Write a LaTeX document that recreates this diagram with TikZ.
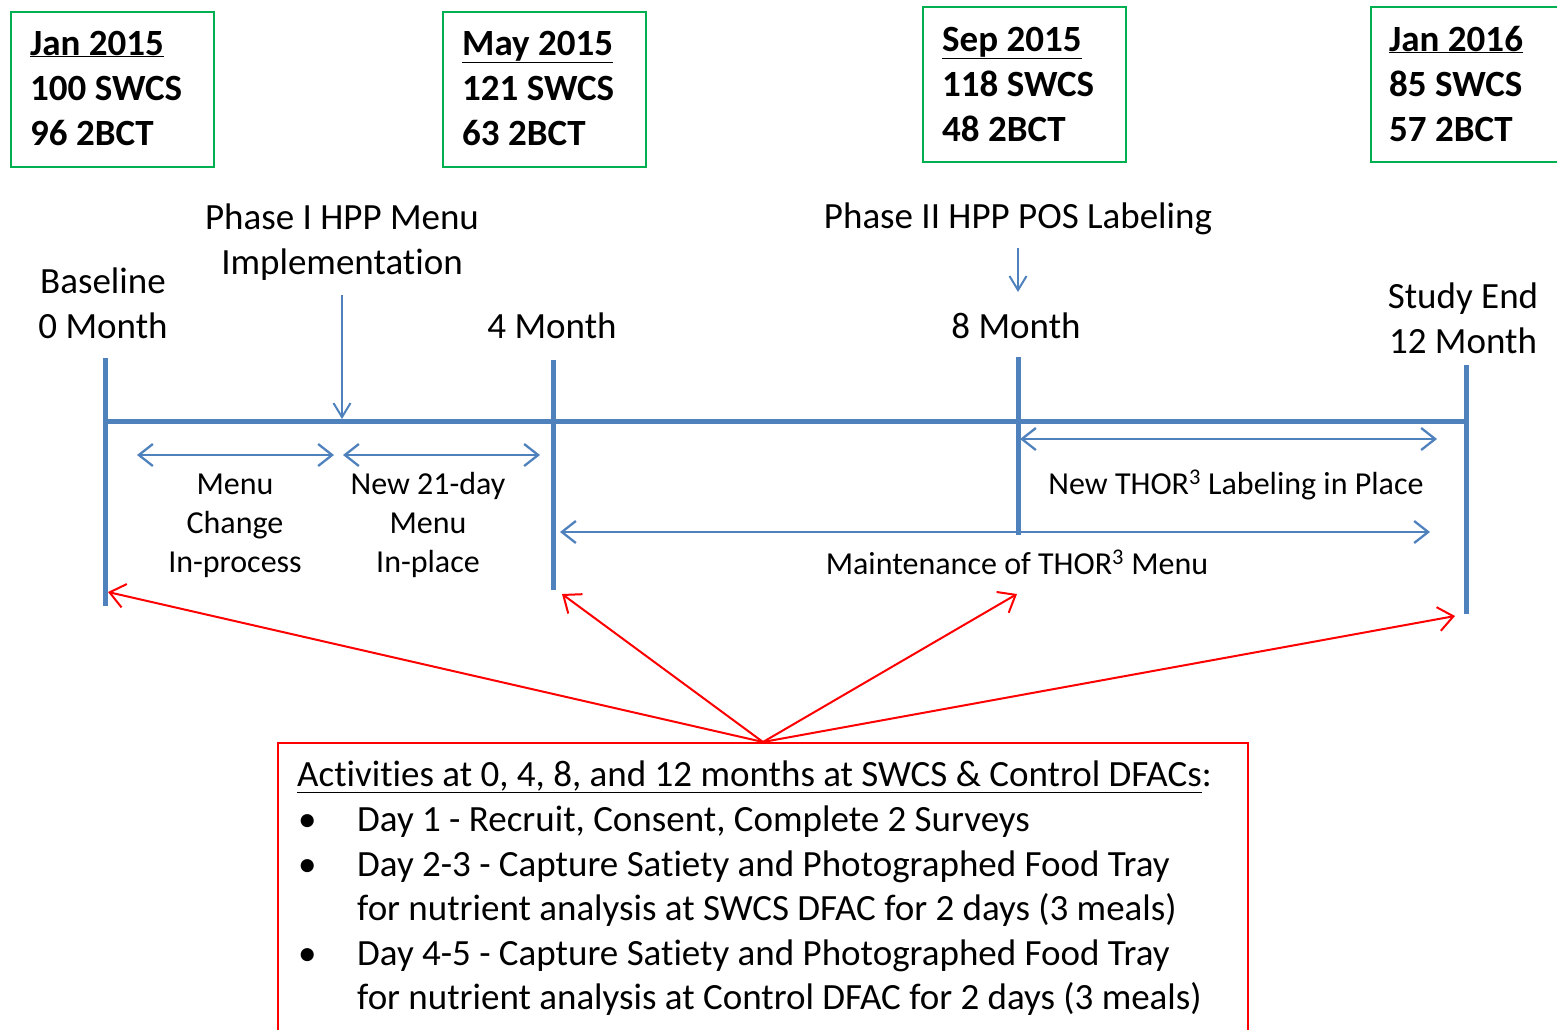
\documentclass[tikz,border=0pt]{standalone}
\usepackage{fontspec}
\setmainfont{Carlito}[Ligatures=NoCommon]
\usetikzlibrary{arrows.meta}
\definecolor{tlblue}{RGB}{79,129,189}
\definecolor{boxgreen}{RGB}{0,176,80}
\definecolor{redline}{RGB}{255,0,0}
\begin{document}
\begin{tikzpicture}[x=1pt,y=-1pt,
  big/.style={font=\fontsize{37}{45}\selectfont, inner sep=0pt, anchor=base},
  bigl/.style={big, anchor=base west},
  bold/.style={font=\fontsize{37}{45}\selectfont\bfseries, inner sep=0pt, anchor=base west},
  small/.style={font=\fontsize{32}{39}\selectfont, inner sep=0pt, anchor=base},
  gbox/.style={draw=boxgreen, line width=2pt, anchor=north west, minimum width=203, minimum height=155, inner sep=0pt},
  tick/.style={draw=tlblue, line width=5pt},
  thinarrow/.style={draw=tlblue, line width=2pt, -{Straight Barb[length=14pt,width=17pt,line width=2pt]}},
  dblarrow/.style={draw=tlblue, line width=2.3pt, {Straight Barb[length=14pt,width=22pt,line width=2.3pt]}-{Straight Barb[length=14pt,width=22pt,line width=2.3pt]}},
  redarrow/.style={draw=redline, line width=2pt, -{Straight Barb[length=15pt,width=24pt,line width=2pt]}}
]
\useasboundingbox (0,0) rectangle (1557,1029);

% green boxes
\node[gbox] (box1) at (10,11) {};
\node[gbox] (box2) at (442,11) {};
\node[gbox] (box3) at (922,6) {};
\node[gbox, minimum width=220] (box4) at (1370,6) {};

\node[bold] (b1a) at (30,55) {\underline{Jan 2015}};
\node[bold] (b1b) at (30,100) {100 SWCS};
\node[bold] (b1c) at (30,145) {96 2BCT};
\node[bold] (b2a) at (462,55) {\underline{May 2015}};
\node[bold] (b2b) at (462,100) {121 SWCS};
\node[bold] (b2c) at (462,145) {63 2BCT};
\node[bold] (b3a) at (942,51) {\underline{Sep 2015}};
\node[bold] (b3b) at (942,96) {118 SWCS};
\node[bold] (b3c) at (942,141) {48 2BCT};
\node[bold] (b4a) at (1389,51) {\underline{Jan 2016}};
\node[bold] (b4b) at (1389,96) {85 SWCS};
\node[bold] (b4c) at (1389,141) {57 2BCT};

% timeline labels
\node[big] (l0a) at (103,293) {Baseline};
\node[big] (l0b) at (103,338) {0 Month};
\node[big] (p1a) at (342,229) {Phase I HPP Menu};
\node[big] (p1b) at (342,274) {Implementation};
\node[big] (l4) at (552,338) {4 Month};
\node[big] (p2) at (1018,228) {Phase II HPP POS Labeling};
\node[big] (l8) at (1016,338) {8 Month};
\node[big] (l12a) at (1463,308) {Study End};
\node[big] (l12b) at (1463,353) {12 Month};

% timeline
\coordinate (t0top) at (105,358);
\coordinate (t0bot) at (105,606);
\coordinate (t4top) at (553,360);
\coordinate (t4bot) at (553,590);
\coordinate (t8top) at (1018,357);
\coordinate (t8bot) at (1018,535);
\coordinate (t12top) at (1466,365);
\coordinate (t12bot) at (1466,614);
\coordinate (hl) at (105,421);
\coordinate (hr) at (1467,421);
\draw[tick] (hl) -- (hr);
\draw[tick] (t0top) -- (t0bot);
\draw[tick] (t4top) -- (t4bot);
\draw[tick] (t8top) -- (t8bot);
\draw[tick] (t12top) -- (t12bot);

% phase arrows
\coordinate (p1s) at (342,295);
\coordinate (p1e) at (342,419);
\coordinate (p2s) at (1018,248);
\coordinate (p2e) at (1018,292);
\draw[thinarrow] (p1s) -- (p1e);
\draw[thinarrow] (p2s) -- (p2e);

% period arrows
\coordinate (a1l) at (137,455);
\coordinate (a1r) at (334,455);
\coordinate (a2l) at (343,455);
\coordinate (a2r) at (540,455);
\coordinate (a3l) at (1020,439);
\coordinate (a3r) at (1437,439);
\coordinate (a4l) at (560,532);
\coordinate (a4r) at (1430,532);
\draw[dblarrow] (a1l) -- (a1r);
\draw[dblarrow] (a2l) -- (a2r);
\draw[dblarrow] (a3l) -- (a3r);
\draw[dblarrow] (a4l) -- (a4r);

\node[small] (m1a) at (235,494) {Menu};
\node[small] (m1b) at (235,533) {Change};
\node[small] (m1c) at (235,572) {In-process};
\node[small] (m2a) at (428,494) {New 21-day};
\node[small] (m2b) at (428,533) {Menu};
\node[small] (m2c) at (428,572) {In-place};
\node[small] (m3) at (1236,494) {New THOR\textsuperscript{3} Labeling in Place};
\node[small] (m4) at (1017,574) {Maintenance of THOR\textsuperscript{3} Menu};

% activities box
\node[draw=redline, line width=2pt, anchor=north west, minimum width=970, minimum height=320, inner sep=0pt] (act) at (277,742) {};
\node[bigl] (acth) at (297,786) {\underline{Activities at 0, 4, 8, and 12 months at SWCS \& Control DFACs}:};
\node[bigl] (bu1) at (298,831) {•};
\node[bigl] (bu2) at (298,876) {•};
\node[bigl] (bu3) at (298,965) {•};
\node[bigl] (ac1) at (357,831) {Day 1 - Recruit, Consent, Complete 2 Surveys};
\node[bigl] (ac2) at (357,876) {Day 2-3 - Capture Satiety and Photographed Food Tray};
\node[bigl] (ac3) at (357,920) {for nutrient analysis at SWCS DFAC for 2 days (3 meals)};
\node[bigl] (ac4) at (357,965) {Day 4-5 - Capture Satiety and Photographed Food Tray};
\node[bigl] (ac5) at (357,1009) {for nutrient analysis at Control DFAC for 2 days (3 meals)};

% red arrows
\coordinate (r0) at (108,592);
\coordinate (r4) at (562,594);
\coordinate (r8) at (1017,594);
\coordinate (r12) at (1455,616);
\draw[redarrow] (act.north) -- (r0);
\draw[redarrow] (act.north) -- (r4);
\draw[redarrow] (act.north) -- (r8);
\draw[redarrow] (act.north) -- (r12);
\end{tikzpicture}
\end{document}
